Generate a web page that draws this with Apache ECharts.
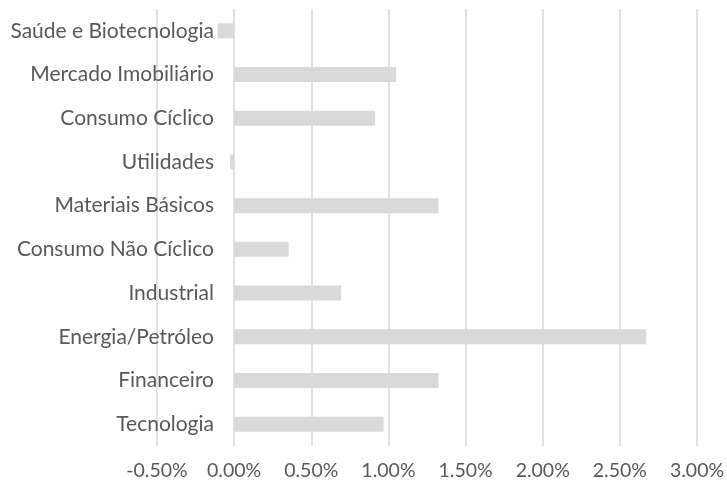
<!DOCTYPE html>
<html><head><meta charset="utf-8">
<script src="https://cdn.jsdelivr.net/npm/echarts@6/dist/echarts.min.js"></script>
<style>html,body{margin:0;padding:0;background:#fff}#c{width:727px;height:486px}</style>
</head><body><div id="c"></div>
<script>
const categories = ['Tecnologia','Financeiro','Energia/Petróleo','Industrial','Consumo Não Cíclico','Materiais Básicos','Utilidades','Consumo Cíclico','Mercado Imobiliário','Saúde e Biotecnologia'];
const values = [0.968, 1.325, 2.671, 0.693, 0.353, 1.325, -0.026, 0.914, 1.05, -0.108];
const xMin = -0.5, xMax = 3.0, xStep = 0.5;

const chart = echarts.init(document.getElementById('c'), null, {renderer:'canvas'});
chart.setOption({
  animation:false,
  backgroundColor:'#ffffff',
  grid:{left:157,right:30,top:9,bottom:40,containLabel:false,outerBoundsMode:'none'},
  xAxis:{type:'value',min:xMin,max:xMax,interval:xStep,
    axisLine:{show:false},axisTick:{show:false},
    splitLine:{show:true,lineStyle:{color:'#d9d9d9',width:1.5}},
    axisLabel:{formatter:v=>v.toFixed(2)+'%',color:'#595959',fontFamily:'Lato',fontSize:19.5,margin:15}},
  yAxis:{type:'category',data:categories,offset:-77,
    axisLine:{show:false},axisTick:{show:false},
    axisLabel:{color:'#595959',fontFamily:'Lato',fontSize:21,margin:20}},
  series:[{type:'bar',data:values,barWidth:15,itemStyle:{color:'#d9d9d9'}}]
});
</script></body></html>
